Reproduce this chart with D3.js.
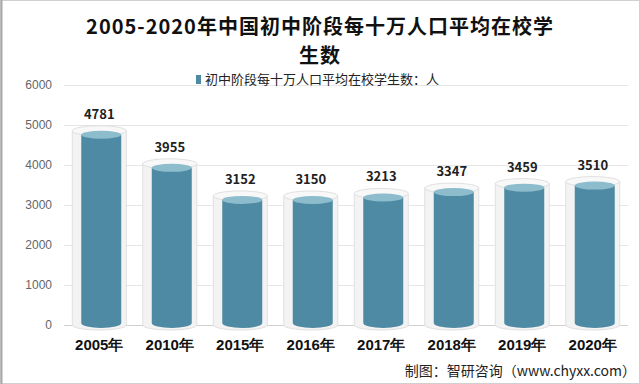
<!DOCTYPE html>
<html lang="zh">
<head>
  <meta charset="UTF-8">
  <title>2005-2020年中国初中阶段每十万人口平均在校学生数</title>
  <style>
    body { margin: 0; background: #fff; }
    svg { display: block; font-family: "Noto Sans CJK SC", "Noto Sans", sans-serif; }
  </style>
</head>
<body>
  <script src="https://cdnjs.cloudflare.com/ajax/libs/d3/7.8.5/d3.min.js"></script>
  <script>
    let categories = ['2005年', '2010年', '2015年', '2016年', '2017年', '2018年', '2019年', '2020年']
    let values = [4781, 3955, 3152, 3150, 3213, 3347, 3459, 3510]
    let yTicks = [0, 1000, 2000, 3000, 4000, 5000, 6000]

    let width = 640
    let height = 384
    let padding = { left: 64, right: 12, top: 85, bottom: 59 }

    let svg = d3.select('body')
      .append('svg')
      .attr('width', width)
      .attr('height', height)

    // 边框
    svg.append('rect')
      .attr('x', 0.5).attr('y', 0.5)
      .attr('width', width - 1).attr('height', height - 1)
      .attr('fill', '#fff')
      .attr('stroke', '#d0d0d0')
    svg.append('line')
      .attr('x1', 1.5).attr('x2', 1.5).attr('y1', 0).attr('y2', height)
      .attr('stroke', '#a8a8a8').attr('stroke-width', 2)

    let xScale = d3.scaleBand()
      .domain(categories)
      .range([padding.left, width - padding.right])

    let yScale = d3.scaleLinear()
      .domain([0, 6000])
      .range([height - padding.bottom, padding.top])

    // 网格线
    svg.selectAll('.grid')
      .data(yTicks)
      .enter()
      .append('line')
      .attr('class', 'grid')
      .attr('x1', padding.left)
      .attr('x2', width - padding.right)
      .attr('y1', d => Math.round(yScale(d)) + 0.5)
      .attr('y2', d => Math.round(yScale(d)) + 0.5)
      .attr('stroke', d => d === 0 ? '#d0d0d0' : '#e6e6e6')

    // y轴
    let yAxis = d3.axisLeft(yScale).tickValues(yTicks).tickFormat(d3.format('d')).tickSize(0).tickPadding(12)
    let gy = svg.append('g')
      .attr('transform', `translate(${padding.left},0)`)
      .call(yAxis)
    gy.select('.domain').remove()
    gy.selectAll('text')
      .attr('fill', '#666')
      .style('font-size', '12px')
      .style('font-family', '"Liberation Sans", "Noto Sans", sans-serif')

    // x轴
    let xAxis = d3.axisBottom(xScale).tickSize(0).tickPadding(14)
    let gx = svg.append('g')
      .attr('transform', `translate(0,${height - padding.bottom})`)
      .call(xAxis)
    gx.select('.domain').remove()
    gx.selectAll('text')
      .attr('fill', '#111')
      .style('font-size', '15px')
      .style('font-weight', 'bold')

    let outerW = 54
    let innerW = 40
    let ry = 5
    let base = yScale(0)

    let groups = svg.selectAll('.cyl')
      .data(values)
      .enter()
      .append('g')
      .attr('class', 'cyl')
      .attr('transform', (d, i) => `translate(${xScale(categories[i]) + xScale.bandwidth() / 2},0)`)

    // 外层玻璃圆柱
    groups.append('path')
      .attr('d', d => {
        let top = yScale(d) - 3
        let a = outerW / 2
        return `M${-a},${top} L${-a},${base} A${a},${ry} 0 0 0 ${a},${base} L${a},${top} Z`
      })
      .attr('fill', '#f3f3f3')
      .attr('stroke', '#e0e0e0')
    groups.append('ellipse')
      .attr('cx', 0)
      .attr('cy', d => yScale(d) - 3)
      .attr('rx', outerW / 2)
      .attr('ry', ry)
      .attr('fill', '#f8f8f8')
      .attr('stroke', '#e0e0e0')

    // 内层数据圆柱
    groups.append('path')
      .attr('d', d => {
        let top = yScale(d) + 1
        let a = innerW / 2
        return `M${-a + 2},${top} L${-a + 2},${base - 2} A${a},${ry} 0 0 0 ${a + 2},${base - 2} L${a + 2},${top} Z`
      })
      .attr('fill', '#4e8aa3')
    groups.append('ellipse')
      .attr('cx', 2)
      .attr('cy', d => yScale(d) + 1)
      .attr('rx', innerW / 2)
      .attr('ry', ry - 1)
      .attr('fill', '#8dbccd')

    // 数值标签
    groups.append('text')
      .attr('x', 0)
      .attr('y', d => yScale(d) - 15)
      .attr('text-anchor', 'middle')
      .attr('fill', '#222')
      .style('font-size', '13px')
      .style('font-weight', 'bold')
      .text(d => d)

    // 标题
    let titleLines = ['2005-2020年中国初中阶段每十万人口平均在校学', '生数']
    svg.selectAll('.title')
      .data(titleLines)
      .enter()
      .append('text')
      .attr('class', 'title')
      .attr('x', 320)
      .attr('y', (d, i) => 34 + i * 29)
      .attr('text-anchor', 'middle')
      .attr('fill', '#111')
      .style('font-size', '20px')
      .style('letter-spacing', '1px')
      .style('font-weight', 'bold')
      .text(d => d)

    // 图例
    svg.append('rect')
      .attr('x', 196).attr('y', 75).attr('width', 5).attr('height', 9)
      .attr('fill', '#4e8aa3')
    svg.append('text')
      .attr('x', 205).attr('y', 84)
      .attr('fill', '#222')
      .style('font-size', '13px')
      .text('初中阶段每十万人口平均在校学生数：人')

    // 来源
    svg.append('text')
      .attr('x', 636).attr('y', 376)
      .attr('text-anchor', 'end')
      .attr('fill', '#222')
      .style('font-size', '14px')
      .text('制图：智研咨询（www.chyxx.com）')
  </script>
</body>
</html>
